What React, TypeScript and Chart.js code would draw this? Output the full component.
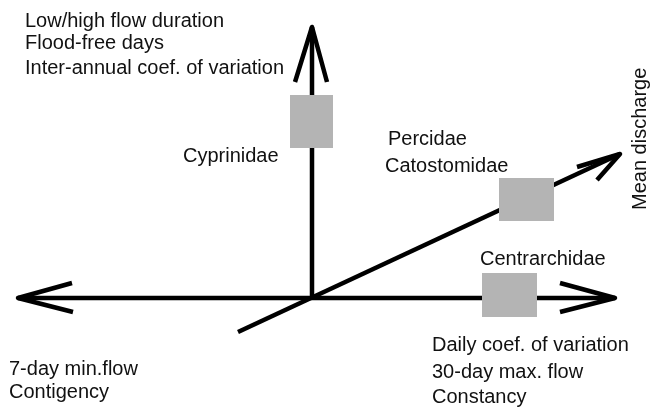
import React, { useEffect, useRef } from "react";
import { Chart, registerables } from "chart.js";

Chart.register(...registerables);

// Diagram space: origin where the three gradients meet; 1 unit = one tenth of the drawing's grid
const X_RANGE = [-31.2, 33.9];
const Y_RANGE = [-11.0, 29.8];

// Axis shafts [x1, y1, x2, y2]
const horizontalAxis = [-29.4, 0, 30.3, 0];
const verticalAxis = [0, 0, 0, 27.1];
const meanDischargeAxis = [-7.4, -3.4, 30.8, 14.4];

// Arrow heads: wing end, tip, wing end
const arrowLeft = [[-24.0, 1.5], [-29.4, 0], [-23.9, -1.4]];
const arrowRight = [[24.8, 1.5], [30.3, 0], [24.8, -1.4]];
const arrowUp = [[-1.7, 21.6], [0, 27.1], [1.5, 21.6]];
const arrowDiag = [[26.5, 13.1], [30.8, 14.4], [28.5, 11.8]];

// Family boxes: [xLeft, xRight, yTop, yBottom]
const familyNames = ["Cyprinidae", "Percidae / Catostomidae", "Centrarchidae"];
const familyBoxes = [
  [-2.2, 2.1, 20.3, 15.0],
  [18.7, 24.2, 12.0, 7.7],
  [17.0, 22.5, 2.5, -1.9],
];

// Text labels
const labelTexts = [
  "Low/high flow duration",
  "Flood-free days",
  "Inter-annual coef. of variation",
  "Cyprinidae",
  "Percidae",
  "Catostomidae",
  "Centrarchidae",
  "Daily coef. of variation",
  "30-day max. flow",
  "Constancy",
  "7-day min.flow",
  "Contigency",
];
const labelX = [-28.7, -28.7, -28.7, -12.9, 7.6, 7.3, 16.8, 12.0, 12.0, 12.0, -30.3, -30.3];
const labelY = [27.1, 24.9, 22.4, 13.6, 15.3, 12.6, 3.3, -5.3, -8.0, -10.5, -7.7, -10.0];

const rotatedText = "Mean discharge";
const rotatedPos = [33.4, 8.8];

const FONT = '20px "Liberation Sans", Arial, sans-serif';
const TEXT_COLOR = "#111111";
const LINE_COLOR = "#000000";
const BOX_COLOR = "#b4b4b4";

const pts = (arr: number[][]) => arr.map(([x, y]) => ({ x, y }));

const textPlugin = {
  id: "diagramText",
  afterDraw(chart: any) {
    const { ctx, scales } = chart;
    const sx = scales.x;
    const sy = scales.y;
    ctx.save();
    ctx.font = FONT;
    ctx.fillStyle = TEXT_COLOR;
    ctx.textAlign = "left";
    ctx.textBaseline = "alphabetic";
    labelTexts.forEach((t, i) => {
      ctx.fillText(t, sx.getPixelForValue(labelX[i]), sy.getPixelForValue(labelY[i]));
    });
    ctx.translate(sx.getPixelForValue(rotatedPos[0]), sy.getPixelForValue(rotatedPos[1]));
    ctx.rotate(-Math.PI / 2);
    ctx.fillText(rotatedText, 0, 0);
    ctx.restore();
  },
};

export default function App() {
  const ref = useRef<HTMLCanvasElement>(null);

  useEffect(() => {
    if (!ref.current) return;
    const lineDs = (data: { x: number; y: number }[]) => ({
      type: "line" as const,
      data,
      showLine: true,
      borderColor: LINE_COLOR,
      borderWidth: 4.5,
      borderJoinStyle: "round" as const,
      borderCapStyle: "butt" as const,
      pointRadius: 0,
      fill: false,
      tension: 0,
    });
    const boxDatasets = familyBoxes.map((b, i) => ({
      type: "line" as const,
      label: familyNames[i],
      data: [
        { x: b[0], y: b[2] },
        { x: b[1], y: b[2] },
      ],
      showLine: true,
      borderWidth: 0,
      borderColor: BOX_COLOR,
      backgroundColor: BOX_COLOR,
      pointRadius: 0,
      fill: { value: b[3] },
      tension: 0,
    }));
    const seg = (a: number[]) => [
      { x: a[0], y: a[1] },
      { x: a[2], y: a[3] },
    ];
    const chart = new Chart(ref.current, {
      type: "scatter",
      data: {
        datasets: [
          ...boxDatasets,
          lineDs(seg(horizontalAxis)),
          lineDs(seg(verticalAxis)),
          lineDs(seg(meanDischargeAxis)),
          lineDs(pts(arrowLeft)),
          lineDs(pts(arrowRight)),
          lineDs(pts(arrowUp)),
          lineDs(pts(arrowDiag)),
        ] as any,
      },
      options: {
        animation: false,
        responsive: false,
        layout: { padding: 0 },
        scales: {
          x: { type: "linear", min: X_RANGE[0], max: X_RANGE[1], display: false },
          y: { type: "linear", min: Y_RANGE[0], max: Y_RANGE[1], display: false },
        },
        plugins: {
          legend: { display: false },
          tooltip: { enabled: false },
          title: { display: false },
        },
        elements: { line: { capBezierPoints: false } },
      },
      plugins: [textPlugin],
    });
    return () => chart.destroy();
  }, []);

  return (
    <div style={{ position: "fixed", left: 0, top: 0, width: 651, height: 408, background: "#fff" }}>
      <canvas ref={ref} width={651} height={408} style={{ display: "block" }} />
    </div>
  );
}
